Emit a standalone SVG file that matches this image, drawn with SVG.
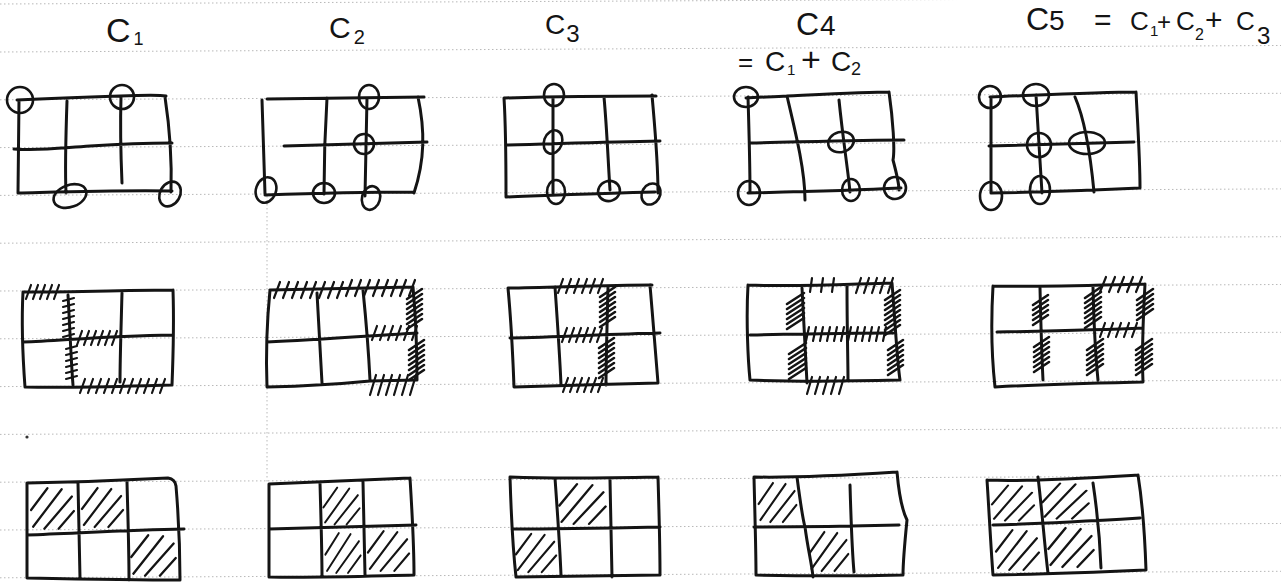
<svg xmlns="http://www.w3.org/2000/svg" xmlns:xlink="http://www.w3.org/1999/xlink" width="1281" height="583" viewBox="0 0 1281 583">
<style>
.rule{stroke:#b8b8b8;stroke-width:1;stroke-dasharray:1.5 2.5;fill:none}
.ink{fill:none;stroke:#141414;stroke-width:3;stroke-linecap:round;stroke-linejoin:round}
.circ{fill:none;stroke:#141414;stroke-width:2.6}
.tk{fill:none;stroke:#141414;stroke-width:2.2;stroke-linecap:round}
.hv{fill:none;stroke:#141414;stroke-width:2.6;stroke-linecap:round}
.lbl{font-family:"Liberation Sans",Arial,sans-serif;fill:#141414}
</style>
<defs>
<path id="hh" d="M4,26 L20,5 M6,42 L34,6 M17,44 L44,13 M31,44 L46,27" fill="none" stroke="#141414" stroke-width="2.2" stroke-linecap="round"/>
</defs>
<rect width="1281" height="583" fill="#ffffff"/>
<g id="paper">
<path class="rule" d="M0,4 L1281,-2 M0,52 L1281,45.5 M0,99.8 L1281,93.3 M0,147.6 L1281,141.1 M0,195.4 L1281,188.9 M0,243.2 L1281,236.7 M0,291 L1281,284.5 M0,338.8 L1281,332.3 M0,386.6 L1281,380.1 M0,434.4 L1281,427.9 M0,482.2 L1281,475.7 M0,530 L1281,523.5 M0,577.8 L1281,571.3"/>
<path class="rule" d="M267,196 L267,483"/>
<circle cx="27" cy="437" r="1.6" fill="#333"/>
</g>
<g id="labels">
<text class="lbl" x="106" y="42" font-size="34">C<tspan font-size="18" dx="3" dy="3">1</tspan></text>
<text class="lbl" x="329" y="38" font-size="30">C<tspan font-size="20" dx="3" dy="6">2</tspan></text>
<text class="lbl" x="545" y="34" font-size="28">C<tspan font-size="24" dx="1" dy="8">3</tspan></text>
<text class="lbl" x="796" y="35" font-size="32">C<tspan font-size="28" dx="1">4</tspan></text>
<text class="lbl" y="71" font-size="28"><tspan x="738" font-size="26">=</tspan><tspan x="765">C</tspan><tspan x="787" y="75" font-size="15">1</tspan><tspan x="801" y="71" font-size="34">+</tspan><tspan x="831" y="71">C</tspan><tspan x="851" y="75" font-size="18">2</tspan></text>
<text class="lbl" y="30" font-size="26"><tspan x="1026" font-size="32">C</tspan><tspan x="1049" font-size="28">5</tspan><tspan x="1094" font-size="30">=</tspan><tspan x="1130">C</tspan><tspan x="1150" y="36" font-size="15">1</tspan><tspan x="1157" y="30" font-size="24">+</tspan><tspan x="1176">C</tspan><tspan x="1195" y="40" font-size="16">2</tspan><tspan x="1205" y="30" font-size="30">+</tspan><tspan x="1236">C</tspan><tspan x="1257" y="44" font-size="24">3</tspan></text>
</g>
<g id="row1-c1">
<path class="ink" d="M17,100 C60,98 90,97 120,96 S160,95 166,96 M165,97 C170,130 172,160 171,192 M18,193 C60,192 120,190 172,191 M19,100 L18,193 M14,149 C40,151 60,148 90,146 S150,143 172,143 M67,101 C66,130 65,170 66,193 M121,97 C120,130 121,160 122,183"/>
<ellipse class="circ" cx="20" cy="100" rx="13" ry="13"/>
<ellipse class="circ" cx="122" cy="97" rx="12" ry="12"/>
<ellipse class="circ" cx="70" cy="196" rx="17" ry="11" transform="rotate(-20 70 196)"/>
<ellipse class="circ" cx="170" cy="194" rx="10" ry="13" transform="rotate(30 170 194)"/>
</g>
<g id="row1-c2">
<path class="ink" d="M267,99 L424,97 M262,100 C263,140 264,170 265,194 M418,97 C425,130 425,160 414,193 M284,146 L427,142 M265,195 C320,193 380,192 414,192 M327,98 C325,130 324,170 324,194 M367,98 L365,196"/>
<ellipse class="circ" cx="369" cy="97" rx="10" ry="12"/>
<ellipse class="circ" cx="364" cy="144" rx="10" ry="10"/>
<ellipse class="circ" cx="371" cy="198" rx="9" ry="12" transform="rotate(15 371 198)"/>
<ellipse class="circ" cx="266" cy="190" rx="10" ry="13" transform="rotate(20 266 190)"/>
<ellipse class="circ" cx="324" cy="193" rx="11" ry="10"/>
</g>
<g id="row1-c3">
<path class="ink" d="M505,98 C540,97 600,96 656,96 M504,98 C506,130 506,170 506,197 M553,97 L553,193 M604,97 C607,130 608,160 610,190 M652,95 C655,130 658,160 658,193 M506,145 C550,144 600,142 660,141 M506,197 C560,195 610,193 655,192"/>
<ellipse class="circ" cx="554" cy="95" rx="10" ry="11"/>
<ellipse class="circ" cx="553" cy="142" rx="9" ry="12" transform="rotate(20 553 142)"/>
<ellipse class="circ" cx="556" cy="192" rx="9" ry="12"/>
<ellipse class="circ" cx="609" cy="191" rx="11" ry="10" transform="rotate(-20 609 191)"/>
<ellipse class="circ" cx="651" cy="194" rx="9" ry="11" transform="rotate(30 651 194)"/>
</g>
<g id="row1-c4">
<path class="ink" d="M746,98 C760,97 775,97 787,96 C830,94 870,92 889,92 M748,97 C749,130 750,170 750,193 M787,96 C795,130 805,170 805,200 M839,100 C843,140 848,170 850,192 M889,92 C893,120 895,150 893,160 C897,175 899,185 899,190 M750,143 C800,142 860,140 904,140 M748,193 C790,192 860,190 901,188"/>
<ellipse class="circ" cx="746" cy="97" rx="12" ry="10"/>
<ellipse class="circ" cx="841" cy="142" rx="13" ry="10" transform="rotate(-15 841 142)"/>
<ellipse class="circ" cx="749" cy="193" rx="11" ry="12"/>
<ellipse class="circ" cx="851" cy="190" rx="9" ry="11"/>
<ellipse class="circ" cx="895" cy="188" rx="11" ry="11" transform="rotate(-20 895 188)"/>
</g>
<g id="row1-c5">
<path class="ink" d="M990,97 C1040,95 1100,92 1136,92 M991,97 L991,193 M1036,95 C1038,130 1040,160 1042,193 M1075,97 C1085,120 1090,150 1094,192 M1136,92 C1138,130 1140,160 1140,188 M989,146 C1040,145 1090,143 1134,142 M991,193 C1040,192 1100,190 1140,188"/>
<ellipse class="circ" cx="990" cy="97" rx="11" ry="11"/>
<ellipse class="circ" cx="1036" cy="95" rx="13" ry="11"/>
<ellipse class="circ" cx="1039" cy="145" rx="12" ry="12"/>
<ellipse class="circ" cx="1087" cy="143" rx="18" ry="11"/>
<ellipse class="circ" cx="991" cy="196" rx="11" ry="14"/>
<ellipse class="circ" cx="1040" cy="190" rx="10" ry="14"/>
</g>
<g id="row2-c1">
<path class="ink" d="M23,292 C80,292 130,290 173,290 M173,290 C174,320 173,360 172,385 M23,292 C21,330 23,360 25,387 M25,387 C80,388 130,386 172,385 M23,342 C60,341 100,336 173,335 M68,295 C70,330 71,360 73,385 M122,293 C121,330 120,360 120,382"/>
<path class="tk" d="M26,299 l5,-14 m2,14 l5,-14 m2,14 l5,-14 m2,14 l5,-14 m2,14 l5,-14
M63,301 l11,-3 m-11,9 l11,-3 m-11,9 l11,-3 m-11,9 l11,-3 m-11,9 l11,-3 m-11,9 l11,-3 m-11,9 l11,-3
M66,349 l11,-3 m-11,9 l11,-3 m-11,9 l11,-3 m-11,9 l11,-3 m-11,9 l11,-3 m-11,9 l11,-3
M77,345 l5,-14 m2,14 l5,-14 m2,14 l5,-14 m2,14 l5,-14 m2,14 l5,-14 m2,14 l5,-14
M80,393 l5,-14 m3,14 l5,-14 m3,14 l5,-14 m3,14 l5,-14 m3,14 l5,-14 m3,14 l5,-14 m3,14 l5,-14 m3,14 l5,-14 m3,14 l5,-14 m3,14 l5,-14 m3,14 l5,-14"/>
</g>
<g id="row2-c2">
<path class="ink" d="M270,290 L413,287 M270,290 C266,330 266,360 267,387 M413,287 C416,320 417,350 417,380 M267,342 C320,340 380,335 417,333 M267,387 C310,386 350,383 370,381 L417,380 M317,293 C319,330 321,360 322,383 M363,290 C367,330 369,360 370,380"/>
<path class="tk" d="M274,298 l6,-16 m3,16 l6,-16 m3,16 l6,-16 m3,16 l6,-16 m3,16 l6,-16 m3,16 l6,-16 m3,16 l6,-16 m3,16 l6,-16
M346,296 l6,-16 m3,16 l6,-16 m3,16 l6,-16 m3,16 l6,-16 m3,16 l6,-16 m3,16 l6,-16 m3,16 l6,-16 m3,16 l6,-16
M372,340 l5,-14 m3,14 l5,-14 m3,14 l5,-14 m3,14 l5,-14 m3,14 l5,-14 m3,14 l5,-14
M370,395 l6,-20 m2,20 l6,-20 m2,20 l6,-20 m2,20 l6,-20 m2,20 l6,-20 m2,20 l6,-20"/>
<path class="hv" d="M407,299 l15,-10 m-15,15 l15,-10 m-15,15 l15,-10 m-15,15 l15,-10 m-15,15 l15,-10 m-15,15 l15,-10 m-15,15 l15,-10
M409,350 l15,-10 m-15,15 l15,-10 m-15,15 l15,-10 m-15,15 l15,-10 m-15,15 l15,-10 m-15,15 l15,-10 m-15,15 l15,-10"/>
</g>
<g id="row2-c3">
<path class="ink" d="M508,288 C560,287 610,285 652,285 M508,288 C511,320 513,360 514,387 M555,287 C558,330 560,360 561,385 M608,287 C607,330 606,360 606,385 M650,285 C653,320 656,360 658,383 M510,338 C560,337 610,334 660,333 M514,387 C560,386 610,384 658,383"/>
<path class="tk" d="M558,293 l5,-14 m3,14 l5,-14 m3,14 l5,-14 m3,14 l5,-14 m3,14 l5,-14 m3,14 l5,-14
M562,342 l5,-14 m2,14 l5,-14 m2,14 l5,-14 m2,14 l5,-14 m2,14 l5,-14 m2,14 l5,-14
M563,392 l5,-14 m2,14 l5,-14 m2,14 l5,-14 m2,14 l5,-14 m2,14 l5,-14 m2,14 l5,-14"/>
<path class="hv" d="M600,297 l15,-10 m-15,15 l15,-10 m-15,15 l15,-10 m-15,15 l15,-10 m-15,15 l15,-10 m-15,15 l15,-10 m-15,15 l15,-10
M599,348 l15,-10 m-15,15 l15,-10 m-15,15 l15,-10 m-15,15 l15,-10 m-15,15 l15,-10 m-15,15 l15,-10 m-15,15 l15,-10"/>
</g>
<g id="row2-c4">
<path class="ink" d="M748,285 C800,287 850,284 892,283 M748,285 C746,320 748,360 750,380 M802,288 C804,330 806,360 807,383 M847,285 C847,330 848,360 848,380 M892,283 C895,320 897,360 900,380 M750,335 C800,334 860,333 893,333 M750,380 C800,382 860,381 900,380"/>
<path class="tk" d="M810,292 l2,-14 m9,14 l2,-14 m9,14 l2,-14
M856,293 l5,-15 m3,15 l5,-15 m3,15 l5,-15 m3,15 l5,-15 m3,15 l5,-15
M806,341 l3,-14 m4,14 l3,-14 m4,14 l3,-14 m4,14 l3,-14 m4,14 l3,-14 m4,14 l3,-14 m4,14 l3,-14 m4,14 l3,-14 m4,14 l3,-14 m4,14 l3,-14 m4,14 l3,-14 m4,14 l3,-14
M807,394 l5,-17 m3,17 l5,-17 m3,17 l5,-17 m3,17 l5,-17 m3,17 l5,-17"/>
<path class="hv" d="M787,304 l17,-11 m-17,16 l17,-11 m-17,16 l17,-11 m-17,16 l17,-11 m-17,16 l17,-11 m-17,16 l17,-11
M789,354 l17,-11 m-17,16 l17,-11 m-17,16 l17,-11 m-17,16 l17,-11 m-17,16 l17,-11 m-17,16 l17,-11
M885,300 l15,-10 m-15,15 l15,-10 m-15,15 l15,-10 m-15,15 l15,-10 m-15,15 l15,-10 m-15,15 l15,-10 m-15,15 l15,-10 m-15,15 l15,-10
M888,350 l15,-10 m-15,15 l15,-10 m-15,15 l15,-10 m-15,15 l15,-10 m-15,15 l15,-10 m-15,15 l15,-10"/>
</g>
<g id="row2-c5">
<path class="ink" d="M993,286 C1040,287 1100,285 1145,284 M993,286 C991,320 992,360 995,387 M1040,288 C1041,330 1042,360 1043,380 M1093,287 C1094,330 1096,360 1098,380 M1145,284 C1143,320 1142,360 1143,382 M997,332 C1050,331 1100,330 1143,328 M995,387 C1050,384 1100,383 1143,382"/>
<path class="tk" d="M1100,292 l6,-15 m3,15 l6,-15 m3,15 l6,-15 m3,15 l6,-15 m3,15 l6,-15
M1100,337 l5,-14 m3,14 l5,-14 m3,14 l5,-14 m3,14 l5,-14 m3,14 l5,-14"/>
<path class="hv" d="M1033,305 l15,-10 m-15,15 l15,-10 m-15,15 l15,-10 m-15,15 l15,-10 m-15,15 l15,-10
M1034,347 l15,-10 m-15,15 l15,-10 m-15,15 l15,-10 m-15,15 l15,-10 m-15,15 l15,-10 m-15,15 l15,-10
M1085,298 l16,-11 m-16,16 l16,-11 m-16,16 l16,-11 m-16,16 l16,-11 m-16,16 l16,-11 m-16,16 l16,-11 m-16,16 l16,-11
M1087,350 l16,-11 m-16,16 l16,-11 m-16,16 l16,-11 m-16,16 l16,-11 m-16,16 l16,-11 m-16,16 l16,-11
M1137,300 l16,-11 m-16,16 l16,-11 m-16,16 l16,-11 m-16,16 l16,-11 m-16,16 l16,-11
M1136,350 l16,-11 m-16,16 l16,-11 m-16,16 l16,-11 m-16,16 l16,-11 m-16,16 l16,-11 m-16,16 l16,-11"/>
</g>
<g id="row3-c1">
<path class="ink" d="M27,483 C80,482 130,480 168,478 Q175,479 176,486 M176,486 C178,510 180,550 180,580 M27,483 L27,577 M27,578 C80,579 140,580 180,580 M27,535 C80,533 130,530 184,529 M78,483 L80,578 M127,482 C128,520 129,550 129,580"/>
<use xlink:href="#hh" transform="translate(27,483) scale(1.02,1.04)"/>
<use xlink:href="#hh" transform="translate(78,483) scale(0.98,1)"/>
<use xlink:href="#hh" transform="translate(127,530) scale(1.06,1.04)"/>
</g>
<g id="row3-c2">
<path class="ink" d="M269,484 C320,482 370,480 410,478 M269,484 L269,577 M410,478 C412,510 414,550 414,575 M269,529 C320,528 370,526 416,525 M269,577 C320,578 370,576 414,575 M320,483 C321,520 322,550 322,577 M363,482 L365,575"/>
<use xlink:href="#hh" transform="translate(320,483) scale(0.86,0.94)"/>
<use xlink:href="#hh" transform="translate(322,528) scale(0.84,1.02)"/>
<use xlink:href="#hh" transform="translate(364,526) scale(0.98,1.02)"/>
</g>
<g id="row3-c3">
<path class="ink" d="M510,477 C560,479 610,478 658,477 M510,477 C511,510 513,550 516,577 M555,478 C558,520 560,550 561,575 M610,480 L612,577 M658,477 C659,510 660,550 660,575 M512,529 C560,529 610,528 660,527 M516,577 C560,576 610,576 660,575"/>
<use xlink:href="#hh" transform="translate(555,479) scale(1.1,1.02)"/>
<use xlink:href="#hh" transform="translate(512,529) scale(0.96,0.98)"/>
</g>
<g id="row3-c4">
<path class="ink" d="M754,477 C800,478 850,475 897,472 M754,477 C755,520 756,550 756,575 M797,477 C800,500 803,520 805,527 C808,550 812,565 813,577 M850,485 C851,520 852,550 854,572 M897,472 C899,495 902,510 907,520 C905,540 903,560 903,575 M754,527 C800,527 860,526 899,525 M756,575 C800,576 860,576 903,575"/>
<use xlink:href="#hh" transform="translate(755,478) scale(0.9,1)"/>
<use xlink:href="#hh" transform="translate(806,527) scale(0.92,1)"/>
</g>
<g id="row3-c5">
<path class="ink" d="M987,480 C1030,482 1090,478 1138,475 M987,480 C989,510 991,550 993,575 M1038,477 C1042,510 1045,550 1048,573 M1093,483 C1097,510 1100,540 1101,568 M1138,475 C1142,500 1145,540 1146,570 M993,525 C1040,524 1090,521 1140,518 M993,575 C1050,574 1100,572 1146,570"/>
<use xlink:href="#hh" transform="translate(988,481) scale(1,0.9)"/>
<use xlink:href="#hh" transform="translate(1038,479) scale(1.1,0.9)"/>
<use xlink:href="#hh" transform="translate(992,525) scale(1.02,1.02)"/>
<use xlink:href="#hh" transform="translate(1044,523) scale(1.08,1)"/>
</g>
</svg>
